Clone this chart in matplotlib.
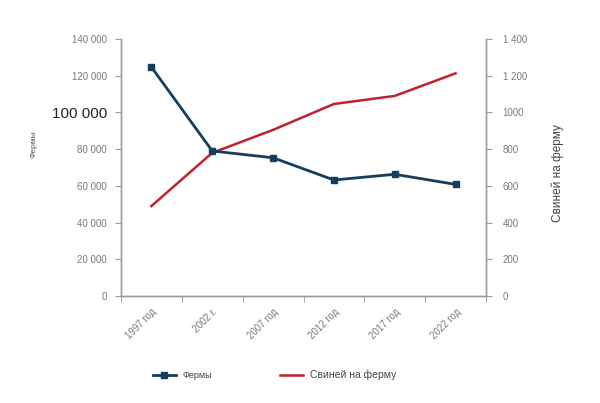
import matplotlib
matplotlib.use("Agg")
import matplotlib.pyplot as plt
from matplotlib.lines import Line2D

plt.rcParams['font.family'] = ['Liberation Sans', 'DejaVu Sans']

years = ["1997 год", "2002 г.", "2007 год", "2012 год", "2017 год", "2022 год"]
farms = [124700, 79000, 75300, 63200, 66300, 60800]
pigs_per_farm = [490, 780, 905, 1046, 1090, 1213]
left_ticks = [0, 20000, 40000, 60000, 80000, 100000, 120000, 140000]
left_labels = ["0", "20 000", "40 000", "60 000", "80 000", "100 000", "120 000", "140 000"]
right_ticks = [0, 200, 400, 600, 800, 1000, 1200, 1400]
right_labels = ["0", "200", "400", "600", "800", "1000", "1 200", "1 400"]

navy = "#163d5c"
red = "#c21f2f"
gray = "#9a9a9a"
tickcol = "#7a7a7a"

fig = plt.figure(figsize=(6, 4.03), dpi=100)
ax = fig.add_axes([121/600, 1-296/403, (486-121)/600, (296-39)/403])
ax2 = ax.twinx()

x = list(range(len(years)))
ax.plot(x, farms, color=navy, lw=2, marker='s', ms=5, zorder=3)
ax2.plot(x, pigs_per_farm, color=red, lw=1.8, zorder=2)
ax.set_zorder(ax2.get_zorder() + 1)
ax.patch.set_visible(False)

ax.set_xlim(-0.5, len(years) - 0.5)
ax.set_ylim(0, 140000)
ax2.set_ylim(0, 1400)

ax.set_xticks(x)
ax.set_xticklabels(years, rotation=45, ha='right', rotation_mode='anchor',
                   fontsize=7, color=tickcol)
ax.tick_params(axis='x', which='major', length=0, pad=8)
ax.set_xticks([i - 0.5 for i in range(len(years) + 1)], minor=True)
ax.tick_params(axis='x', which='minor', length=4, color=gray, direction='out')

ax.set_yticks(left_ticks)
ax.set_yticklabels(left_labels, fontsize=7, color=tickcol)
ax.tick_params(axis='y', length=4, color=gray, pad=6)
for t in ax.get_yticklabels():
    if t.get_text() == "100 000":
        t.set_fontsize(11)
        t.set_color("#222222")

ax2.set_yticks(right_ticks)
ax2.set_yticklabels(right_labels, fontsize=7, color=tickcol)
ax2.tick_params(axis='y', length=4, color=gray, pad=8)

for a in (ax, ax2):
    a.spines['top'].set_visible(False)
    for s in ('left', 'right', 'bottom'):
        a.spines[s].set_color(gray)
        a.spines[s].set_linewidth(1)

ax.set_ylabel("Фермы", fontsize=6, color="#555555")
ax.yaxis.set_label_coords(-0.23, 0.59)
ax2.set_ylabel("Свиней на ферму", fontsize=8.5, color="#444444")
ax2.yaxis.set_label_coords(1.18, 0.48)

handles = [Line2D([], [], color=navy, lw=2, marker='s', ms=5),
           Line2D([], [], color=red, lw=1.8)]
leg = fig.legend(handles, ["Фермы", "Свиней на ферму"], loc='center',
                 bbox_to_anchor=(0.458, 1-375/403), ncol=2, frameon=False,
                 fontsize=7.5, handlelength=2.2, handletextpad=0.7, columnspacing=6.5)
texts = leg.get_texts()
texts[0].set_fontsize(6.5)
for t in texts:
    t.set_color("#444444")

fig.savefig("out.png", dpi=100, facecolor="white")
